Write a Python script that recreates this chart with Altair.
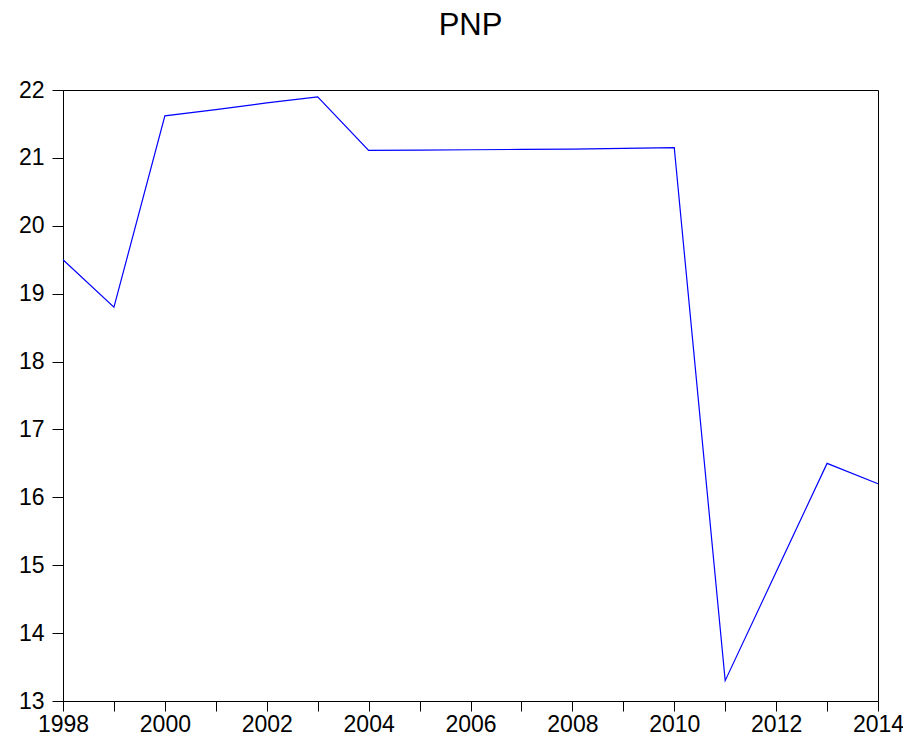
import altair as alt
import pandas as pd

years = list(range(1998, 2015))
pnp = [19.5, 18.8, 21.62, 21.71, 21.81, 21.9, 21.11, 21.115, 21.12, 21.125, 21.13, 21.14, 21.15,
       13.3, 14.9, 16.5, 16.2]

df = pd.DataFrame({"year": years, "PNP": pnp})

FONT = "Liberation Sans"

axis_style = dict(labelFont=FONT, labelFontSize=23, labelColor="black",
                  domainColor="black", tickColor="black", domainWidth=1, tickWidth=1,
                  grid=False, title=None)

chart = alt.Chart(df).mark_line(color="#0000FF", strokeWidth=1.2).encode(
    x=alt.X("year:Q",
            scale=alt.Scale(domain=[1998, 2014], nice=False, zero=False),
            axis=alt.Axis(values=years, format="d",
                          labelExpr="datum.value % 2 == 0 ? datum.label : ''",
                          labelFlush=False, labelOverlap=False,
                          tickSize=10, labelPadding=2, **axis_style)),
    y=alt.Y("PNP:Q",
            scale=alt.Scale(domain=[13, 22], nice=False, zero=False),
            axis=alt.Axis(values=list(range(13, 23)), tickSize=11,
                          labelPadding=8, **axis_style)),
).properties(
    width=815,
    height=611,
    background="white",
    title=alt.TitleParams("PNP", fontSize=31, font=FONT, fontWeight="normal",
                          color="black", anchor="middle", offset=13, baseline="alphabetic"),
    autosize=alt.AutoSizeParams(type="none"),
    padding={"left": 55, "top": 82, "right": 25, "bottom": 37},
).configure_view(
    stroke="black", strokeWidth=1,
)

chart.save("out.html", embed_options={"renderer": "svg", "actions": False})
